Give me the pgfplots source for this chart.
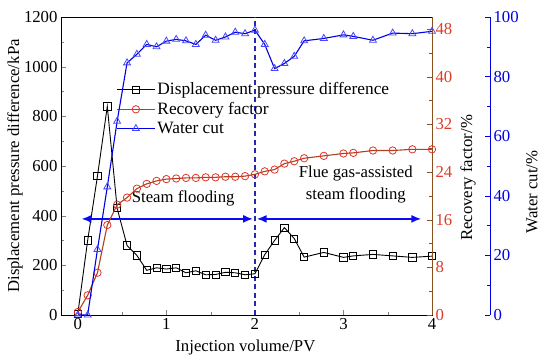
\documentclass[border=0pt]{standalone}
\usepackage{pgfplots}
\pgfplotsset{compat=1.18}
\usetikzlibrary{arrows.meta}
\usepackage{fontspec}
\setmainfont{Liberation Serif}
\definecolor{recline}{RGB}{175,65,30}
\definecolor{recmark}{RGB}{225,50,40}
\definecolor{recaxis}{RGB}{140,80,30}
\definecolor{rectick}{RGB}{220,60,40}
\definecolor{wcline}{RGB}{0,0,225}
\definecolor{wcmark}{RGB}{70,70,255}
\definecolor{arrowblue}{RGB}{10,10,245}
\definecolor{dashblue}{RGB}{40,40,175}
\newcommand{\lgf}{\fontsize{17.4}{20}\selectfont}
\pgfplotsset{
  every axis/.append style={
    font=\fontsize{16.8}{20}\selectfont,
    scale only axis, width=371bp, height=298bp,
    xmin=-0.19, xmax=4,
    tick align=inside,
    major tick length=5bp, minor tick length=3bp,
    /pgf/number format/assume math mode=true,
    /pgf/number format/1000 sep={},
  },
}
\begin{document}
\begin{tikzpicture}
% ---------- main axis: displacement pressure ----------
\begin{axis}[
  name=main,
  ymin=0, ymax=1200,
  xtick={0,1,2,3,4}, minor xtick={0.5,1.5,2.5,3.5},
  ytick={0,200,400,600,800,1000,1200}, minor ytick={100,300,500,700,900,1100},
  xtick pos=lower, ytick pos=left,
  every axis x label/.style={at={(axis description cs:0.497,-0.11)}, anchor=center},
  every axis y label/.style={at={(axis description cs:-0.124,0.5)}, rotate=90, anchor=center},
  xlabel={Injection volume/PV},
  ylabel={Displacement pressure difference/kPa},
  legend style={draw=none, fill=none, at={(axis description cs:0.146,0.79)}, anchor=north west,
    row sep=2bp, inner sep=1bp},
  legend cell align=left,
  legend image code/.code={
    \draw[#1, mark=none] (0bp,0bp) -- (38bp,0bp);
    \draw[#1, only marks] plot coordinates {(19bp,0bp)};
  },
]
\addplot[black, line width=0.9bp, mark=square, mark size=3.6bp, mark options={solid, fill=white, line width=0.8bp}] coordinates {
(0,5) (0.111,300) (0.222,560) (0.333,840) (0.444,430) (0.556,280) (0.667,240) (0.778,180)
(0.889,190) (1.0,185) (1.111,190) (1.222,170) (1.333,178) (1.444,162) (1.556,163) (1.667,172)
(1.778,170) (1.889,162) (2.0,166) (2.111,243) (2.222,300) (2.333,352) (2.444,308) (2.556,233)
(2.778,252) (3.0,232) (3.111,238) (3.333,244) (3.556,238) (3.778,232) (4.0,237)
};
\addlegendentry{\lgf Displacement pressure difference}
\addlegendimage{recline, line width=1.1bp, mark=o, mark size=3.7bp, mark options={recmark, solid, line width=0.8bp}}
\addlegendentry{\lgf Recovery factor}
\addlegendimage{wcline, line width=1.1bp, mark=triangle, mark size=4bp, mark options={wcmark, solid, line width=0.8bp}}
\addlegendentry{\lgf Water cut}
\addplot[dashblue, line width=1.3bp, dash pattern=on 5bp off 3.5bp, forget plot] coordinates {(2,0) (2,1200)};
\draw[arrowblue, line width=1.8bp, {Latex[length=10bp,width=8bp]}-{Latex[length=10bp,width=8bp]}] (axis cs:0.04,387) -- (axis cs:1.98,387);
\draw[arrowblue, line width=1.8bp, {Latex[length=10bp,width=8bp]}-{Latex[length=10bp,width=8bp]}] (axis cs:2.02,387) -- (axis cs:3.88,387);
\node[anchor=center] at (axis cs:1.19,471) {Steam flooding};
\node[anchor=center, align=center, font=\fontsize{16.8}{22}\selectfont] at (axis cs:3.14,527) {Flue gas-assisted\\steam flooding};
\end{axis}
% ---------- recovery factor axis ----------
\begin{axis}[
  ymin=0, ymax=50,
  axis x line=none, axis y line*=right,
  y axis line style={draw=recaxis, line width=0.9bp, -},
  ytick={0,8,16,24,32,40,48}, minor ytick={4,12,20,28,36,44},
  ytick style={draw=recaxis},
  every minor tick/.append style={draw=recaxis},
  yticklabel style={text=rectick},
  every axis y label/.style={at={(axis description cs:1.097,0.46)}, rotate=90, anchor=center},
  ylabel={Recovery factor/\%},
]
\addplot[recline, line width=1.1bp, mark=o, mark size=3.7bp, mark options={recmark, solid, line width=0.8bp}] coordinates {
(0,0.5) (0.111,3.3) (0.222,7.1) (0.333,15.1) (0.444,18.5) (0.556,19.7) (0.667,21.2) (0.778,22.0)
(0.889,22.5) (1.0,22.8) (1.111,22.9) (1.222,23.0) (1.333,23.0) (1.444,23.1) (1.556,23.1) (1.667,23.2)
(1.778,23.2) (1.889,23.3) (2.0,23.6) (2.111,24.1) (2.222,24.4) (2.333,25.4) (2.444,25.8) (2.556,26.3)
(2.778,26.7) (3.0,27.1) (3.111,27.2) (3.333,27.6) (3.556,27.6) (3.778,27.8) (4.0,27.8)
};
\end{axis}
% ---------- water cut data ----------
\begin{axis}[
  ymin=0, ymax=100,
  axis x line=none, axis y line=none,
]
\addplot[wcline, line width=1.1bp, mark=triangle, mark size=4bp, mark options={wcmark, solid, line width=0.8bp}] coordinates {
(0,0) (0.111,0) (0.222,22) (0.333,43) (0.444,65) (0.556,84.6) (0.667,87.5) (0.778,90.8)
(0.889,90.0) (1.0,91.9) (1.111,92.5) (1.222,92.0) (1.333,90.8) (1.444,93.9) (1.556,92.2) (1.667,93.3)
(1.778,94.9) (1.889,94.4) (2.0,95.6) (2.111,90.8) (2.222,82.7) (2.333,84.4) (2.444,86.8) (2.556,92.0)
(2.778,92.8) (3.0,94.0) (3.111,93.5) (3.333,92.2) (3.556,94.6) (3.778,94.4) (4.0,95.2)
};
\end{axis}
% ---------- water cut offset scale ----------
\begin{axis}[
  at={(58bp,0bp)}, anchor=south west,
  ymin=0, ymax=100,
  axis x line=none, axis y line*=right,
  y axis line style={draw=wcline, line width=0.9bp, -},
  ytick={0,20,40,60,80,100}, minor ytick={10,30,50,70,90},
  ytick style={draw=wcline},
  every minor tick/.append style={draw=wcline},
  yticklabel style={text=wcline},
  every axis y label/.style={at={(axis description cs:1.113,0.413)}, rotate=90, anchor=center},
  ylabel={Water cut/\%},
]
\addplot[draw=none, forget plot] coordinates {(0,0) (4,100)};
\end{axis}
\pgfresetboundingbox
\path[use as bounding box] (-61bp,-47bp) rectangle (489bp,315bp);
\end{tikzpicture}
\end{document}
